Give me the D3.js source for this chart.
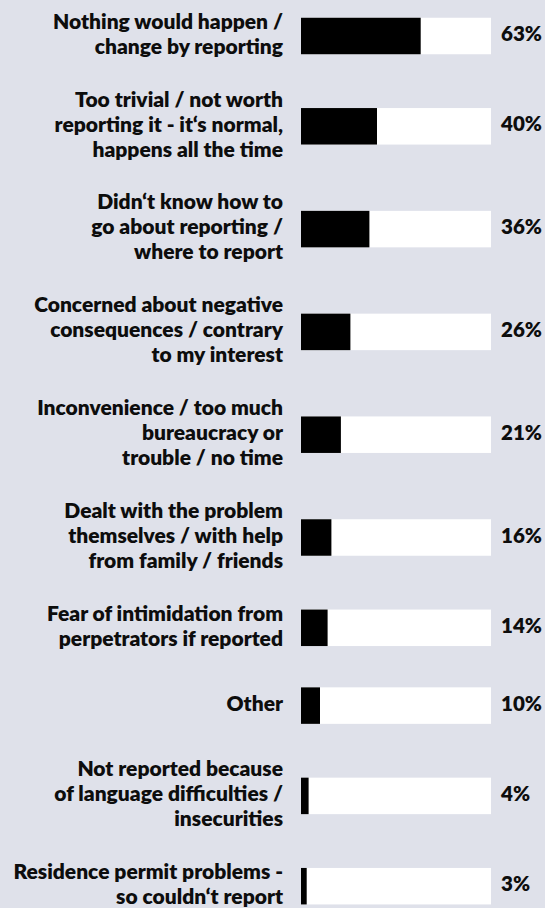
<!DOCTYPE html>
<html>
<head>
<meta charset="utf-8">
<script src="https://cdn.jsdelivr.net/npm/d3@7"></script>
<style>
  html, body { margin: 0; padding: 0; background: #dfe1ea; }
  text { font-family: Lato, 'Open Sans', sans-serif; font-weight: 800; fill: #0d0d0d; }
</style>
</head>
<body>
<div id="chart"></div>
<script>
// reasons for not reporting, one array entry per line of the label
var categories = [
  ['Nothing would happen /', 'change by reporting'],
  ['Too trivial / not worth', 'reporting it - it\u2018s normal,', 'happens all the time'],
  ['Didn\u2018t know how to', 'go about reporting /', 'where to report'],
  ['Concerned about negative', 'consequences / contrary', 'to my interest'],
  ['Inconvenience / too much', 'bureaucracy or', 'trouble / no time'],
  ['Dealt with the problem', 'themselves / with help', 'from family / friends'],
  ['Fear of intimidation from', 'perpetrators if reported'],
  ['Other'],
  ['Not reported because', 'of language difficulties /', 'insecurities'],
  ['Residence permit problems -', 'so couldn\u2018t report']
];
var values = [63, 40, 36, 26, 21, 16, 14, 10, 4, 3];

var width = 545, height = 908;
var lineH = 25, gap = 27.8, barH = 36.5;

var svg = d3.select('#chart')
  .append('svg')
  .attr('width', width)
  .attr('height', height);

svg.append('rect')
  .attr('width', width)
  .attr('height', height)
  .attr('fill', '#dfe1ea');

var x = d3.scaleLinear().domain([0, 100]).range([301, 491]);

// stack the label blocks: every block is at least two lines tall
var centers = [];
var yPos = 11;
categories.forEach(function (lines) {
  var h = Math.max(lines.length, 2) * lineH;
  centers.push(yPos + h / 2);
  yPos += h + gap;
});

var rows = svg.selectAll('g.row')
  .data(values)
  .enter()
  .append('g')
  .attr('class', 'row')
  .attr('transform', function (d, i) { return 'translate(0,' + centers[i] + ')'; });

// white track
rows.append('rect')
  .attr('x', x(0))
  .attr('y', -barH / 2)
  .attr('width', x(100) - x(0))
  .attr('height', barH)
  .attr('fill', '#ffffff');

// black value bar
rows.append('rect')
  .attr('x', x(0))
  .attr('y', -barH / 2)
  .attr('width', function (d) { return x(d) - x(0); })
  .attr('height', barH)
  .attr('fill', '#000000');

rows.append('text')
  .attr('x', 501)
  .attr('y', -2)
  .attr('dy', '0.35em')
  .style('font-size', '20.5px')
  .text(function (d) { return d + '%'; });

var labels = rows.append('text')
  .attr('text-anchor', 'end')
  .style('font-size', '21px');

labels.selectAll('tspan')
  .data(function (d, i) { return categories[i]; })
  .enter()
  .append('tspan')
  .attr('x', 283)
  .attr('y', function (d, j, nodes) {
    return (j - (nodes.length - 1) / 2) * lineH - 2;
  })
  .attr('dy', '0.35em')
  .text(function (d) { return d; });
</script>
</body>
</html>
